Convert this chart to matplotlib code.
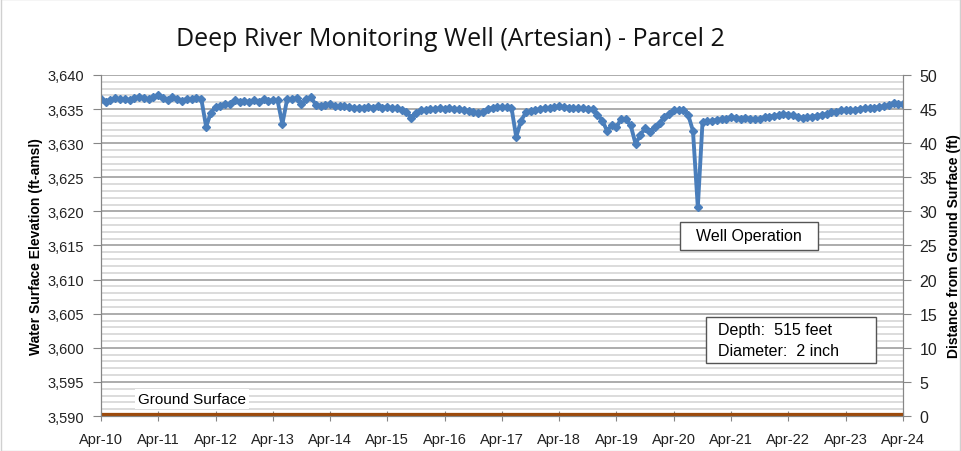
import matplotlib
matplotlib.use('Agg')
import matplotlib.pyplot as plt
import matplotlib.dates as mdates
from matplotlib.ticker import MultipleLocator, FuncFormatter
from matplotlib.patches import Rectangle
import pandas as pd

title = 'Deep River Monitoring Well (Artesian) - Parcel 2'
start_month = '2010-04-01'
# monthly water surface elevation readings (ft-amsl), Apr-2010 .. Apr-2024
elevation = [
    3636.4, 3636.1, 3636.3, 3636.6, 3636.4, 3636.5, 3636.3, 3636.6, 3636.8, 3636.6,
    3636.4, 3636.8, 3637.0, 3636.6, 3636.3, 3636.7, 3636.4, 3636.2, 3636.5, 3636.4,
    3636.6, 3636.5, 3632.4, 3634.4, 3635.3, 3635.5, 3635.8, 3635.7, 3636.3, 3636.1,
    3636.2, 3636.0, 3636.3, 3636.1, 3636.4, 3636.2, 3636.3, 3636.3, 3632.8, 3636.4,
    3636.5, 3636.6, 3635.7, 3636.4, 3636.7, 3635.6, 3635.5, 3635.6, 3635.7, 3635.5,
    3635.4, 3635.4, 3635.3, 3635.1, 3635.2, 3635.2, 3635.3, 3635.2, 3635.4, 3635.2,
    3635.3, 3635.1, 3635.2, 3634.8, 3634.6, 3633.7, 3634.4, 3634.8, 3634.9, 3635.0,
    3635.0, 3635.1, 3635.0, 3635.1, 3635.0, 3635.0, 3634.8, 3634.7, 3634.6, 3634.4,
    3634.6, 3635.0, 3635.2, 3635.3, 3635.3, 3635.3, 3635.2, 3630.9, 3633.3, 3634.5,
    3634.7, 3634.8, 3635.0, 3635.1, 3635.2, 3635.3, 3635.4, 3635.3, 3635.2, 3635.1,
    3635.2, 3635.1, 3635.0, 3635.0, 3634.2, 3633.3, 3631.8, 3632.6, 3632.3, 3633.6,
    3633.5, 3632.6, 3629.9, 3631.2, 3632.2, 3631.6, 3632.3, 3633.0, 3633.8, 3634.3,
    3634.8, 3634.9, 3634.8, 3634.2, 3631.8, 3620.6, 3633.1, 3633.2, 3633.3, 3633.4,
    3633.5, 3633.6, 3633.8, 3633.7, 3633.6, 3633.7, 3633.6, 3633.5, 3633.6, 3633.8,
    3633.9, 3634.0, 3634.1, 3634.3, 3634.2, 3634.1, 3633.8, 3633.7, 3633.8, 3633.9,
    3634.0, 3634.1, 3634.3, 3634.5, 3634.6, 3634.8, 3634.9, 3634.8, 3634.9, 3635.0,
    3635.1, 3635.1, 3635.2, 3635.3, 3635.4, 3635.6, 3635.9, 3635.8, 3635.8,
]
ground_surface = 3590
elev_range = (3590, 3640)
depth_range = (0, 50)
notes = ['Well Operation', 'Depth:  515 feet\nDiameter:  2 inch', 'Ground Surface']

dates = pd.date_range(start_month, periods=len(elevation), freq='MS')

plt.rcParams['font.family'] = ['Liberation Sans', 'DejaVu Sans']
fig = plt.figure(figsize=(9.61, 4.52), dpi=100)
ax = fig.add_axes([0.105, 0.0774, 0.8346, 0.7546])
ax2 = ax.twinx()

grid_major = '#a6a6a6'
grid_minor = '#d9d9d9'
ax.yaxis.set_major_locator(MultipleLocator(5))
ax.yaxis.set_minor_locator(MultipleLocator(1))
ax.grid(which='minor', axis='y', color=grid_minor, lw=1.3)
ax.grid(which='major', axis='y', color=grid_major, lw=1.3)
ax.set_axisbelow(True)

ax.plot(dates, elevation, color='#4a7ebb', lw=2.8, marker='D', ms=4.2,
        zorder=3)
ax.plot([dates[0], dates[-1]], [ground_surface, ground_surface],
        color='#9c4a0c', lw=4.5, zorder=3, solid_capstyle='butt')

ax.set_xlim(dates[0], dates[-1])
ax.set_ylim(*elev_range)
ax2.set_ylim(*depth_range)
ax2.yaxis.set_major_locator(MultipleLocator(5))

ax.xaxis.set_major_locator(mdates.MonthLocator(bymonth=4))
ax.xaxis.set_major_formatter(mdates.DateFormatter('%b-%y'))
ax.yaxis.set_major_formatter(FuncFormatter(lambda v, p: f'{v:,.0f}'))

for a in (ax, ax2):
    for s in a.spines.values():
        s.set_color('#868686')
    a.spines['top'].set_visible(False)
    a.tick_params(which='both', colors='#868686', labelcolor='#222222',
                  labelsize=10.5)
ax.tick_params(axis='y', which='minor', length=0)
ax.tick_params(axis='x', direction='inout', length=7, pad=8)
ax.tick_params(axis='y', length=6, pad=6)
ax2.tick_params(axis='y', length=6, labelsize=11.5, pad=6)

ax.set_ylabel('Water Surface Elevation (ft-amsl)', fontsize=10,
              fontweight='bold', labelpad=3)
ax2.set_ylabel('Distance from Ground Surface (ft)', fontsize=10,
               fontweight='bold', labelpad=7)

fig.text(0.469, 0.912, title, ha='center', va='center', fontsize=18,
         family=['Open Sans', 'DejaVu Sans'], color='#111111')

# annotation boxes
for (x0, y0, w, h) in [(0.722, 0.487, 0.172, 0.082),
                       (0.754, 0.155, 0.212, 0.135)]:
    ax.add_patch(Rectangle((x0, y0), w, h, transform=ax.transAxes,
                           fc='white', ec='#555555', lw=1, zorder=4))
ax.text(0.808, 0.528, notes[0], transform=ax.transAxes, ha='center',
        va='center', fontsize=11.5, zorder=5)
ax.text(0.77, 0.223, notes[1], transform=ax.transAxes, ha='left',
        va='center', fontsize=11.5, linespacing=1.45, zorder=5)
ax.text(0.046, 0.05, notes[2], transform=ax.transAxes, ha='left',
        va='center', fontsize=11,
        bbox=dict(boxstyle='square,pad=0.2', fc='white', ec='none'))

fig.patches.append(Rectangle((0.001, 0.001), 0.998, 0.998,
                             transform=fig.transFigure, fill=False,
                             ec='#d0d0d0', lw=1))

fig.savefig('out.png', dpi=100)
